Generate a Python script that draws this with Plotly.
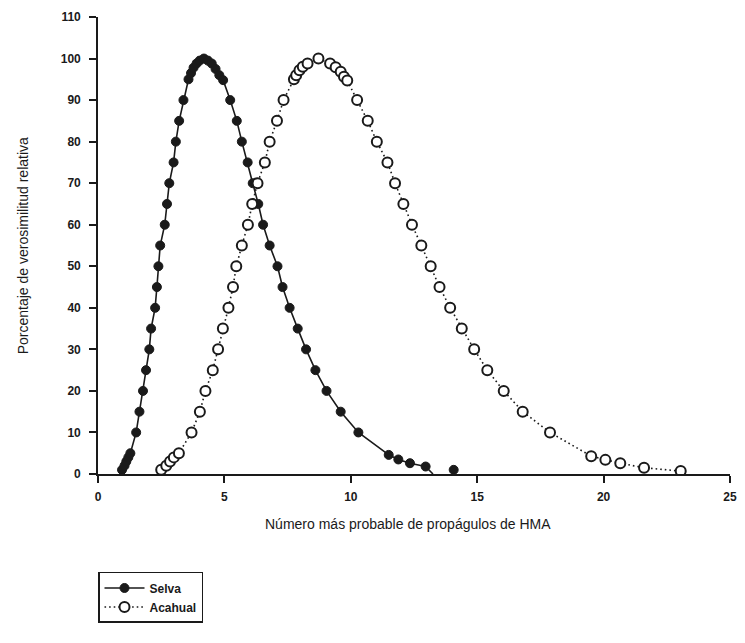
import plotly.graph_objects as go

# Relative likelihood (%) of the most probable number of AMF propagules
selva_x = [0.95, 1.05, 1.12, 1.20, 1.28, 1.51, 1.64, 1.78, 1.90, 2.03, 2.10, 2.26,
           2.33, 2.39, 2.46, 2.64, 2.73, 2.82, 2.99, 3.08, 3.21, 3.38,
           3.58, 3.68, 3.78, 3.90, 4.02, 4.19, 4.35, 4.50, 4.65, 4.80, 4.95,
           5.23, 5.49, 5.69, 5.92, 6.12, 6.34, 6.53, 6.79, 7.10, 7.30, 7.58,
           7.90, 8.23, 8.60, 9.04, 9.60, 10.30, 11.50, 11.88, 12.34, 12.96]
selva_y = [1, 2, 3, 4, 5, 10, 15, 20, 25, 30, 35, 40,
           45, 50, 55, 60, 65, 70, 75, 80, 85, 90,
           95, 96.5, 97.8, 98.8, 99.5, 100, 99.5, 98.8, 97.5, 96, 94.8,
           90, 85, 80, 75, 70, 65, 60, 55, 50, 45, 40,
           35, 30, 25, 20, 15, 10, 4.6, 3.5, 2.6, 1.8]
# fitted line runs down to the axis; last estimate sits apart from it
selva_line_end_x = [13.25]
selva_line_end_y = [0]
selva_tail_x = [14.07]
selva_tail_y = [1.0]

acahual_x = [2.50, 2.70, 2.85, 3.00, 3.20, 3.70, 4.03, 4.25, 4.54, 4.75, 4.94, 5.16,
             5.34, 5.47, 5.69, 5.93, 6.10, 6.31, 6.60, 6.79, 7.08, 7.34,
             7.75, 7.84, 7.97, 8.10, 8.29, 8.72, 9.18, 9.40, 9.60, 9.73, 9.86,
             10.25, 10.67, 11.03, 11.45, 11.75, 12.08, 12.42, 12.79, 13.16, 13.51,
             13.93, 14.39, 14.88, 15.40, 16.05, 16.80, 17.88, 19.51, 20.07, 20.66,
             21.60, 23.05]
acahual_y = [1, 2, 3, 4, 5, 10, 15, 20, 25, 30, 35, 40,
             45, 50, 55, 60, 65, 70, 75, 80, 85, 90,
             95, 96, 97.2, 98, 98.8, 100, 98.8, 97.9, 96.8, 95.6, 94.7,
             90, 85, 80, 75, 70, 65, 60, 55, 50, 45,
             40, 35, 30, 25, 20, 15, 10, 4.3, 3.4, 2.6,
             1.5, 0.7]

x_ticks = [0, 5, 10, 15, 20, 25]
y_ticks = [0, 10, 20, 30, 40, 50, 60, 70, 80, 90, 100, 110]

ink = "#1a1a1a"
font_family = "Liberation Sans, Arial, sans-serif"

fig = go.Figure()

fig.add_trace(go.Scatter(
    x=selva_x[-1:] + selva_line_end_x, y=selva_y[-1:] + selva_line_end_y,
    mode="lines", line=dict(color=ink, width=1.6),
    showlegend=False, hoverinfo="skip", legendgroup="selva"))
fig.add_trace(go.Scatter(
    x=selva_x, y=selva_y, name="Selva", mode="lines+markers",
    line=dict(color=ink, width=1.6),
    marker=dict(symbol="circle", size=9, color=ink,
                line=dict(color=ink, width=1)),
    legendgroup="selva"))
fig.add_trace(go.Scatter(
    x=selva_tail_x, y=selva_tail_y, mode="markers",
    marker=dict(symbol="circle", size=9, color=ink,
                line=dict(color=ink, width=1)),
    showlegend=False, legendgroup="selva"))
fig.add_trace(go.Scatter(
    x=acahual_x, y=acahual_y, name="Acahual", mode="lines+markers",
    line=dict(color=ink, width=1.6, dash="1.6px,3px"),
    marker=dict(symbol="circle", size=10, color="white",
                line=dict(color=ink, width=2)),
    legendgroup="acahual"))

axis_common = dict(
    showline=True, linecolor=ink, linewidth=1.6,
    ticks="outside", ticklen=7, tickwidth=1.6, tickcolor=ink,
    showgrid=False, zeroline=False,
    tickfont=dict(family=font_family, size=12, color=ink, weight="bold"),
)

fig.update_xaxes(range=[0, 25], tickvals=x_ticks, ticklabelstandoff=4,
                 **axis_common)
fig.update_yaxes(range=[0, 110], tickvals=y_ticks, ticklabelstandoff=6,
                 **axis_common)

fig.add_annotation(
    text="Porcentaje de verosimilitud relativa", textangle=-90,
    xref="paper", yref="paper", x=-0.119, y=0.5,
    xanchor="center", yanchor="middle", showarrow=False,
    font=dict(family=font_family, size=14, color=ink))
fig.add_annotation(
    text="Número más probable de propágulos de HMA",
    xref="paper", yref="paper", x=0.49, y=-0.109,
    xanchor="center", yanchor="middle", showarrow=False,
    font=dict(family=font_family, size=14, color=ink))

fig.update_layout(
    width=745, height=643,
    margin=dict(l=98, r=8, t=17, b=169),
    paper_bgcolor="white", plot_bgcolor="white",
    legend=dict(
        x=0, y=-0.2144, xanchor="left", yanchor="top",
        bordercolor=ink, borderwidth=1.5, bgcolor="white",
        font=dict(family=font_family, size=12, color=ink, weight="bold"),
        itemwidth=40, tracegroupgap=0,
    ),
)

fig.write_html("out.html")
